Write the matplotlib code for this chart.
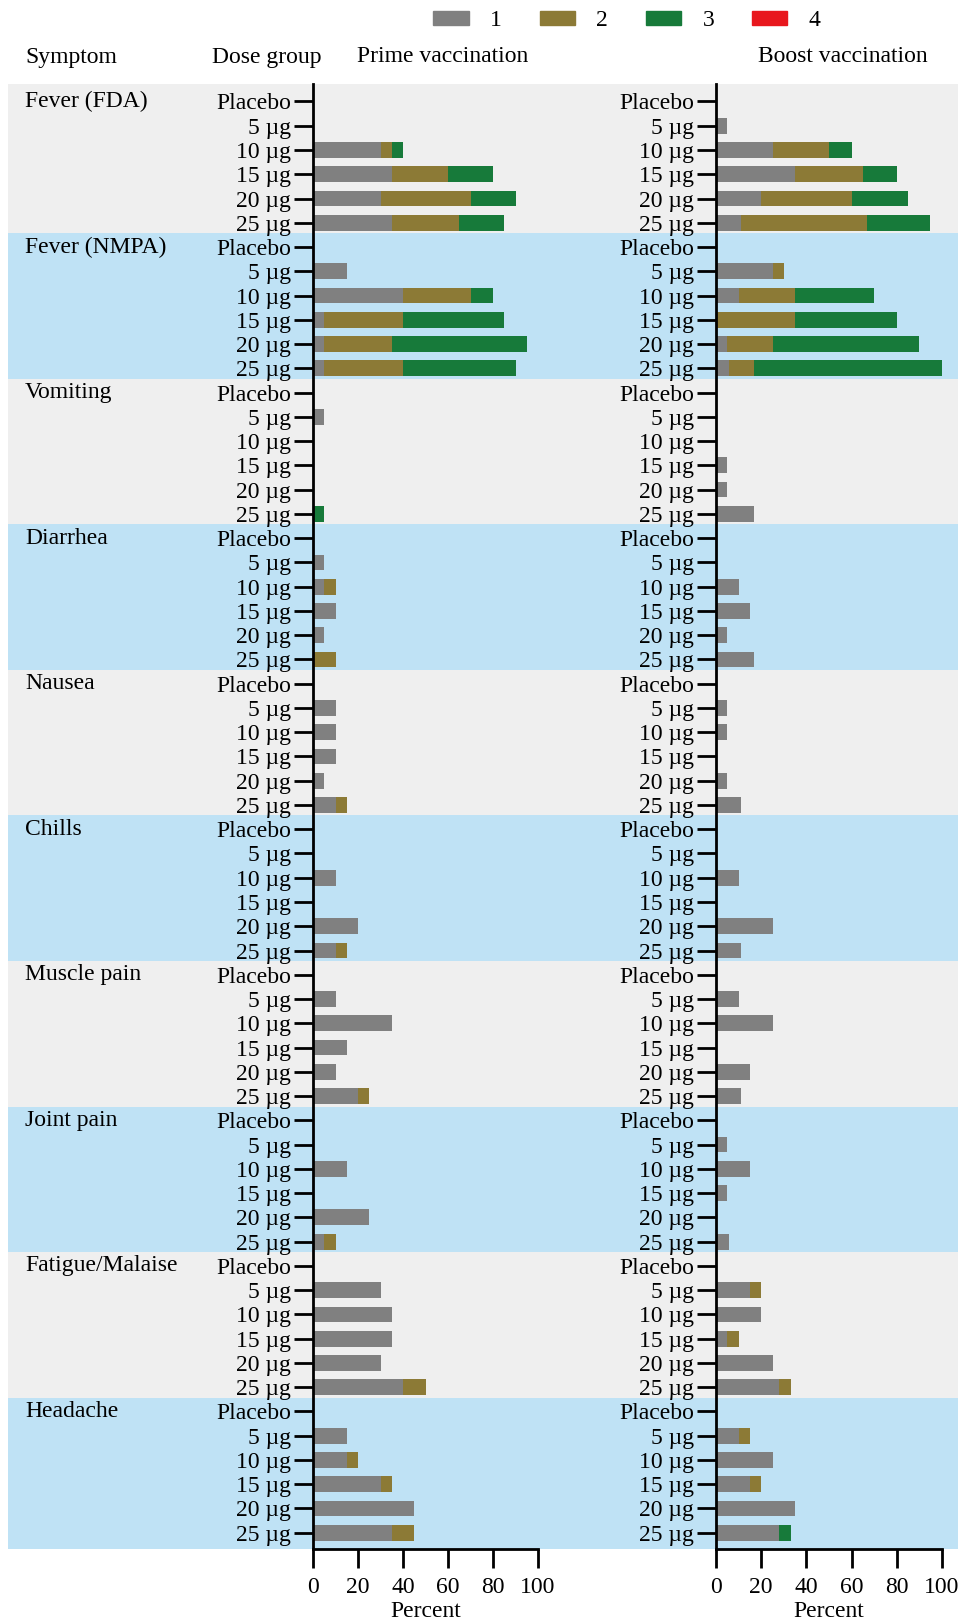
import numpy as np
import matplotlib
matplotlib.use("Agg")
import matplotlib.pyplot as plt
from matplotlib.patches import Patch

plt.rcParams['font.family'] = ['Liberation Serif', 'DejaVu Serif']
plt.rcParams['font.size'] = 17

doses = ["Placebo", "5 µg", "10 µg", "15 µg", "20 µg", "25 µg"]
symptoms = ["Fever (FDA)", "Fever (NMPA)", "Vomiting", "Diarrhea", "Nausea",
            "Chills", "Muscle pain", "Joint pain", "Fatigue/Malaise", "Headache"]
grades = ["1", "2", "3", "4"]
grade_colors = ["#808080", "#8c7a36", "#177a3a", "#e8171d"]

# percent of participants, rows = symptoms, columns = doses
prime_g1 = [[0, 0, 30, 35, 30, 35],
            [0, 15, 40, 5, 5, 5],
            [0, 5, 0, 0, 0, 0],
            [0, 5, 5, 10, 5, 0],
            [0, 10, 10, 10, 5, 10],
            [0, 0, 10, 0, 20, 10],
            [0, 10, 35, 15, 10, 20],
            [0, 0, 15, 0, 25, 5],
            [0, 30, 35, 35, 30, 40],
            [0, 15, 15, 30, 45, 35]]
prime_g2 = [[0, 0, 5, 25, 40, 30],
            [0, 0, 30, 35, 30, 35],
            [0, 0, 0, 0, 0, 0],
            [0, 0, 5, 0, 0, 10],
            [0, 0, 0, 0, 0, 5],
            [0, 0, 0, 0, 0, 5],
            [0, 0, 0, 0, 0, 5],
            [0, 0, 0, 0, 0, 5],
            [0, 0, 0, 0, 0, 10],
            [0, 0, 5, 5, 0, 10]]
prime_g3 = [[0, 0, 5, 20, 20, 20],
            [0, 0, 10, 45, 60, 50],
            [0, 0, 0, 0, 0, 5],
            [0, 0, 0, 0, 0, 0],
            [0, 0, 0, 0, 0, 0],
            [0, 0, 0, 0, 0, 0],
            [0, 0, 0, 0, 0, 0],
            [0, 0, 0, 0, 0, 0],
            [0, 0, 0, 0, 0, 0],
            [0, 0, 0, 0, 0, 0]]
prime_g4 = [[0] * 6 for _ in range(10)]

boost_g1 = [[0, 5, 25, 35, 20, 11.1],
            [0, 25, 10, 0, 5, 5.6],
            [0, 0, 0, 5, 5, 16.7],
            [0, 0, 10, 15, 5, 16.7],
            [0, 5, 5, 0, 5, 11.1],
            [0, 0, 10, 0, 25, 11.1],
            [0, 10, 25, 0, 15, 11.1],
            [0, 5, 15, 5, 0, 5.6],
            [0, 15, 20, 5, 25, 27.8],
            [0, 10, 25, 15, 35, 27.8]]
boost_g2 = [[0, 0, 25, 30, 40, 55.6],
            [0, 5, 25, 35, 20, 11.1],
            [0, 0, 0, 0, 0, 0],
            [0, 0, 0, 0, 0, 0],
            [0, 0, 0, 0, 0, 0],
            [0, 0, 0, 0, 0, 0],
            [0, 0, 0, 0, 0, 0],
            [0, 0, 0, 0, 0, 0],
            [0, 5, 0, 5, 0, 5.6],
            [0, 5, 0, 5, 0, 0]]
boost_g3 = [[0, 0, 10, 15, 25, 27.8],
            [0, 0, 35, 45, 65, 83.3],
            [0, 0, 0, 0, 0, 0],
            [0, 0, 0, 0, 0, 0],
            [0, 0, 0, 0, 0, 0],
            [0, 0, 0, 0, 0, 0],
            [0, 0, 0, 0, 0, 0],
            [0, 0, 0, 0, 0, 0],
            [0, 0, 0, 0, 0, 0],
            [0, 0, 0, 0, 0, 5.6]]
boost_g4 = [[0] * 6 for _ in range(10)]

W, H = 961, 1622
fig = plt.figure(figsize=(W / 100, H / 100), dpi=100)

y_top_px, y_bot_px = 84, 1549
ax_h = (y_bot_px - y_top_px) / H
ax_b = 1 - y_bot_px / H
n_rows = len(symptoms) * len(doses)
ylim = (n_rows - 1 + 0.67, -0.72)

# background bands
bg = fig.add_axes([8 / W, ax_b, 950 / W, ax_h], zorder=0)
bg.set_xlim(0, 1)
bg.set_ylim(*ylim)
bg.axis("off")
for i, s in enumerate(symptoms):
    top = ylim[1] if i == 0 else i * 6 - 0.57
    bot = ylim[0] if i == len(symptoms) - 1 else (i + 1) * 6 - 0.57
    bg.axhspan(top, bot, color="#efefef" if i % 2 == 0 else "#bfe2f5", lw=0)
    bg.text(17 / 950, i * 6, s, ha="left", va="center",
            transform=bg.get_yaxis_transform())

ypos = np.arange(n_rows)
labels = doses * len(symptoms)


def draw(left_px, width_px, data):
    ax = fig.add_axes([left_px / W, ax_b, width_px / W, ax_h], zorder=2)
    ax.patch.set_alpha(0)
    left = np.zeros(n_rows)
    for g, col in zip(data, grade_colors):
        vals = np.array(g, dtype=float).ravel()
        ax.barh(ypos, vals, left=left, height=0.65, color=col, lw=0)
        left += vals
    ax.set_xlim(0, 100)
    ax.set_ylim(*ylim)
    ax.set_yticks(ypos)
    ax.set_yticklabels(labels)
    ax.set_xticks([0, 20, 40, 60, 80, 100])
    ax.set_xlabel("Percent", labelpad=2.5)
    for sp in ["top", "right"]:
        ax.spines[sp].set_visible(False)
    for sp in ["left", "bottom"]:
        ax.spines[sp].set_linewidth(2)
    ax.tick_params(axis="y", length=14, width=2, pad=2)
    ax.tick_params(axis="x", length=14, width=2, pad=6)
    return ax


draw(313, 225, [prime_g1, prime_g2, prime_g3, prime_g4])
draw(716, 226, [boost_g1, boost_g2, boost_g3, boost_g4])

hy = 1 - 57 / H
fig.text(25 / W, hy, "Symptom", ha="left", va="center")
fig.text(212 / W, hy, "Dose group", ha="left", va="center")
fig.text(357 / W, hy, "Prime vaccination", ha="left", va="center")
fig.text(928 / W, hy, "Boost vaccination", ha="right", va="center")

handles = [Patch(color=c, label=g) for g, c in zip(grades, grade_colors)]
fig.legend(handles=handles, ncol=4, loc="center", bbox_to_anchor=(627 / W, 1 - 21 / H),
           frameon=False, handlelength=1.5, handleheight=0.55, handletextpad=0.9,
           columnspacing=1.6, borderpad=0)

fig.savefig("out.png", dpi=100)
